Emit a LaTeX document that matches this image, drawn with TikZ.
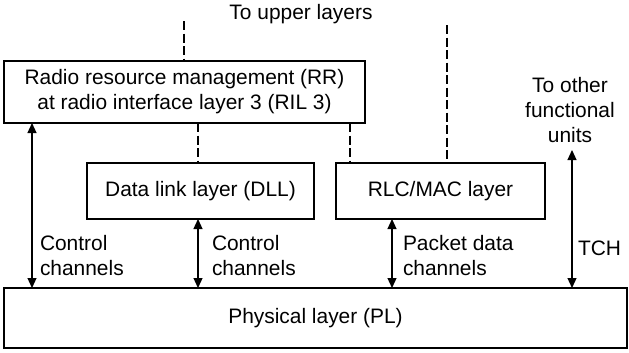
\documentclass[tikz,border=0pt]{standalone}
\usepackage{fontspec}
\setmainfont{Liberation Sans}
\usetikzlibrary{arrows.meta,calc}
\newcommand{\bodyfont}{\fontsize{21}{25}\selectfont}
\tikzset{
  every node/.style={font=\bodyfont,inner sep=0pt,outer sep=0pt},
  layer/.style={draw,line width=1.2bp,align=center},
  dual/.style={line width=1.2bp,{Triangle[length=10bp,width=9bp]}-{Triangle[length=10bp,width=9bp]}},
  link/.style={line width=1.2bp,dash pattern=on 9bp off 3.5bp},
  chan/.style={align=left,anchor=west}
}
\begin{document}
\begin{tikzpicture}[x=1bp,y=-1bp]

\path[use as bounding box] (0,0) rectangle (629,352);
% Layer boxes, top to bottom.
\node[layer,minimum width=361bp,minimum height=62bp] (rr) at (184.5,92)
  {Radio resource management (RR)\\at radio interface layer 3 (RIL 3)};
\node[layer,minimum width=227bp,minimum height=56bp] (dll) at (200.5,191) {Data link layer (DLL)};
\node[layer,minimum width=209bp,minimum height=56bp] (rlc) at (440.5,191) {RLC/MAC layer};
\node[layer,minimum width=623bp,minimum height=60bp] (pl) at (315.5,318) {Physical layer (PL)};

\node (upper) at (301,14) {To upper layers};
\node[align=center] (other) at (570,110) {To other\\functional\\units};
\coordinate (upL) at (184,21);
\coordinate (upR) at (447,25);
\coordinate (tchTop) at (572,150);

% Links to upper layers (dashed).
\draw[link] (upL) -- (upL |- rr.north);
\draw[link] (upR) -- (upR |- rlc.north);
\draw[link] ([xshift=-2.5bp]dll.north |- rr.south) -- ([xshift=-2.5bp]dll.north);
\draw[link] ([xshift=14bp]rlc.north west |- rr.south) -- ([xshift=14bp]rlc.north west);

% Channels down to the physical layer.
\draw[dual] ([xshift=28bp]rr.south west) -- ([xshift=28bp]rr.south west |- pl.north);
\draw[dual] ([xshift=-2.5bp]dll.south) -- ([xshift=-2.5bp]dll.south |- pl.north);
\draw[dual] ([xshift=56bp]rlc.south west) -- ([xshift=56bp]rlc.south west |- pl.north);
\draw[dual] (tchTop) -- (tchTop |- pl.north);

\node[chan] (ctlA) at (40,255.5) {Control\\channels};
\node[chan] (ctlB) at (212,255.5) {Control\\channels};
\node[chan] (pkt) at (403,255.5) {Packet data\\channels};
\node[chan] (tch) at (578,248) {TCH};
\end{tikzpicture}
\end{document}
